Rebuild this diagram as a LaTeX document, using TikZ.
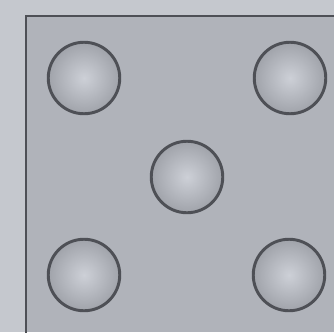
\documentclass[tikz,border=0pt]{standalone}
\definecolor{bgout}{RGB}{197,200,206}
\definecolor{face}{RGB}{176,179,186}
\definecolor{edge}{RGB}{78,80,86}
\definecolor{pipin}{RGB}{205,208,215}
\definecolor{pipout}{RGB}{160,163,170}
\begin{document}
\begin{tikzpicture}[x=0.75pt,y=-0.75pt,
  pip/.style={circle, draw=edge, line width=2.2pt, minimum size=71.5pt*0.75/0.75*0.75, inner sep=0pt, inner color=pipin, outer color=pipout}]
\useasboundingbox (0,0) rectangle (334,332);
\fill[bgout] (0,0) rectangle (334,332);
\fill[face] (26,16) rectangle (334,332);
\draw[edge, line width=2.2pt] (26,334) -- (26,16) -- (336,16);
\node[pip] (tl) at (84,78) {};
\node[pip] (tr) at (290,78) {};
\node[pip] (c) at (187,177) {};
\node[pip] (bl) at (84,275) {};
\node[pip] (br) at (289,275) {};
\end{tikzpicture}
\end{document}
